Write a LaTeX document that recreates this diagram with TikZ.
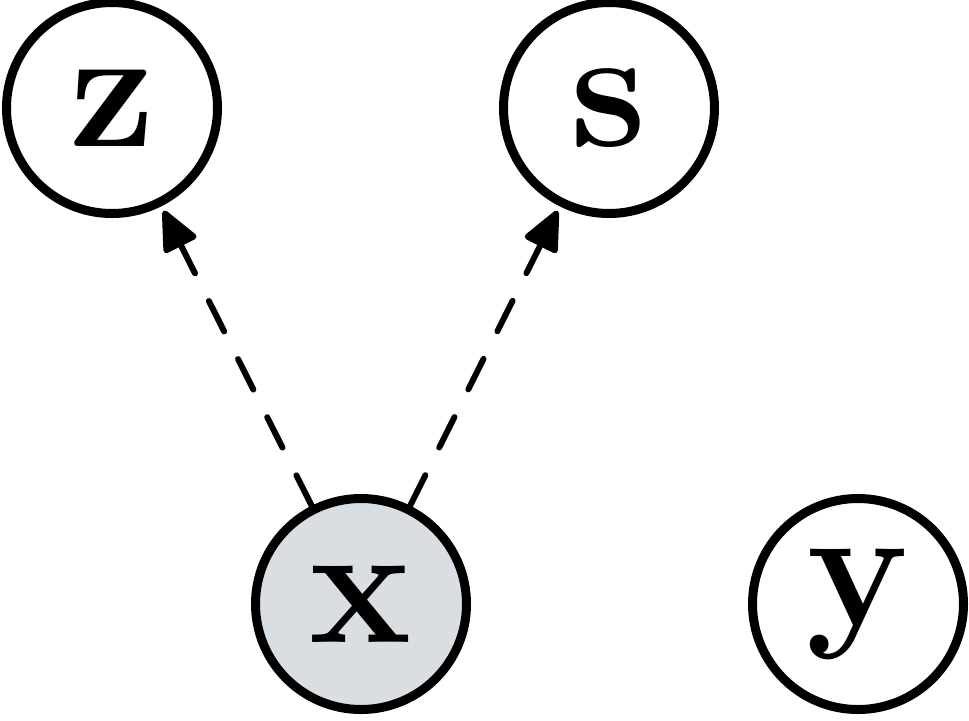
\documentclass[tikz,border=0pt]{standalone}
\usetikzlibrary{arrows.meta}
\definecolor{obsfill}{HTML}{D9DEE3}
\begin{document}
\begin{tikzpicture}[x=0.5pt,y=-0.5pt,
  var/.style={circle,draw=black,line width=4.5pt,minimum size=105.5pt,inner sep=0pt,
    font=\fontsize{86}{90}\selectfont\bfseries},
  obs/.style={var,fill=obsfill},
  dep/.style={line width=3pt,dash pattern=on 17pt off 15.5pt,line cap=round,
    -{Triangle[length=22pt,width=19pt,round=false]},shorten >=2.5pt}]
\useasboundingbox (0,0) rectangle (969,720);
\node[var] (z) at (112,108) {z};
\node[var] (s) at (609,108) {s};
\node[obs] (x) at (361,604) {x};
\node[var] (y) at (858,604) {y};
\draw[dep] (x) -- (z);
\draw[dep] (x) -- (s);
\end{tikzpicture}
\end{document}
